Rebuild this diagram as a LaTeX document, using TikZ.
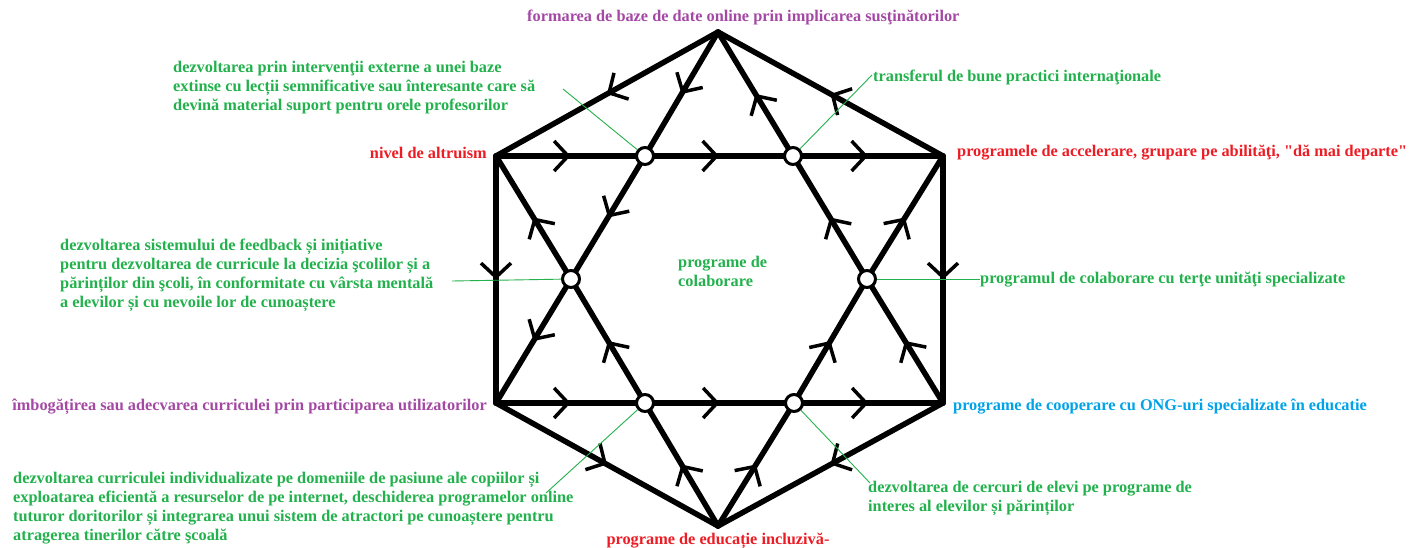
\documentclass[tikz,border=0pt]{standalone}
\usepackage{fontspec}
\setmainfont{Liberation Serif}[Ligatures=TeXOff]
\usetikzlibrary{arrows.meta,decorations.markings}
\definecolor{pgreen}{RGB}{34,177,76}
\definecolor{pred}{RGB}{237,28,36}
\definecolor{ppurple}{RGB}{163,73,164}
\definecolor{pblue}{RGB}{0,162,232}
\begin{document}
\begin{tikzpicture}[x=1pt,y=-1pt,
  edge/.style={line width=5.5pt, line cap=round, postaction={decorate},
    decoration={markings, mark=at position 0.5 with {\arrow{Straight Barb[length=14pt,width=30pt,line width=3.5pt]}}}},
  junction/.style={circle, draw, line width=3pt, fill=white, minimum size=17pt, inner sep=0pt},
  lbl/.style={font=\fontsize{16.3}{19}\selectfont\bfseries, inner sep=0pt},
  leader/.style={draw=pgreen, line width=0.9pt}]
\useasboundingbox (0,0) rectangle (1413,548);
% outer points
\coordinate (T) at (718,32);
\coordinate (B) at (718,526);
\coordinate (UL) at (496,156);
\coordinate (UR) at (943,156);
\coordinate (LL) at (496,403);
\coordinate (LR) at (943,403);
% junction points
\coordinate (p1) at (645,156);
\coordinate (p2) at (793,156);
\coordinate (pML) at (571,279);
\coordinate (pMR) at (867,279);
\coordinate (p3) at (645,403);
\coordinate (p4) at (794,403);
% hexagon
\draw[edge] (T) -- (UL);
\draw[edge] (UL) -- (LL);
\draw[edge] (LL) -- (B);
\draw[edge] (LR) -- (B);
\draw[edge] (UR) -- (LR);
\draw[edge] (UR) -- (T);
% horizontals
\draw[edge] (UL) -- (p1);
\draw[edge] (p1) -- (p2);
\draw[edge] (p2) -- (UR);
\draw[edge] (LL) -- (p3);
\draw[edge] (p3) -- (p4);
\draw[edge] (p4) -- (LR);
% star diagonals
\draw[edge] (T) -- (p1);
\draw[edge] (p1) -- (pML);
\draw[edge] (pML) -- (LL);
\draw[edge] (LR) -- (pMR);
\draw[edge] (pMR) -- (p2);
\draw[edge] (p2) -- (T);
\draw[edge] (B) -- (p3);
\draw[edge] (p3) -- (pML);
\draw[edge] (pML) -- (UL);
\draw[edge] (B) -- (p4);
\draw[edge] (p4) -- (pMR);
\draw[edge] (pMR) -- (UR);
% junction circles
\node[junction] (c1) at (p1) {};
\node[junction] (c2) at (p2) {};
\node[junction] (cML) at (pML) {};
\node[junction] (cMR) at (pMR) {};
\node[junction] (c3) at (p3) {};
\node[junction] (c4) at (p4) {};
% leader ends
\coordinate (e1) at (563,89);
\coordinate (e2) at (872,75);
\coordinate (e3) at (452,281);
\coordinate (e4) at (980,279);
\coordinate (e5) at (546,493);
\coordinate (e6) at (870,483);
\draw[leader] (c1) -- (e1);
\draw[leader] (c2) -- (e2);
\draw[leader] (cML) -- (e3);
\draw[leader] (cMR) -- (e4);
\draw[leader] (c3) -- (e5);
\draw[leader] (c4) -- (e6);
% labels
\node[lbl, text=ppurple, anchor=base west] (tTop) at (527,22) {formarea de baze de date online prin implicarea susţinătorilor};
\node[lbl, text=pgreen, anchor=north west, align=left] (tA) at (173,61) {dezvoltarea prin intervenţii externe a unei baze\\extinse cu lecții semnificative sau înteresante care să\\devină material suport pentru orele profesorilor};
\node[lbl, text=pred, anchor=base east] (tAlt) at (487,159) {nivel de altruism};
\node[lbl, text=pred, anchor=base west] (tAcc) at (957,157) {programele de accelerare, grupare pe abilităţi, "dă mai departe"};
\node[lbl, text=pgreen, anchor=base west] (tTr) at (873,82) {transferul de bune practici internaţionale};
\node[lbl, text=pgreen, anchor=north west, align=left] (tFb) at (60,239) {dezvoltarea sistemului de feedback și inițiative\\pentru dezvoltarea de curricule la decizia şcolilor și a\\părinților din şcoli, în conformitate cu vârsta mentală\\a elevilor și cu nevoile lor de cunoaștere};
\node[lbl, text=pgreen, anchor=north west, align=left] (tCol) at (678,256) {programe de\\colaborare};
\node[lbl, text=pgreen, anchor=base west] (tTer) at (980,283) {programul de colaborare cu terţe unităţi specializate};
\node[lbl, text=ppurple, anchor=base east] (tImb) at (487,410) {îmbogățirea sau adecvarea curriculei prin participarea utilizatorilor};
\node[lbl, text=pblue, anchor=base west] (tOng) at (953,410) {programe de cooperare cu ONG-uri specializate în educatie};
\node[lbl, text=pgreen, anchor=north west, align=left] (tInd) at (13,472) {dezvoltarea curriculei individualizate pe domeniile de pasiune ale copiilor și\\exploatarea eficientă a resurselor de pe internet, deschiderea programelor online\\tuturor doritorilor și integrarea unui sistem de atractori pe cunoaștere pentru\\atragerea tinerilor către şcoală};
\node[lbl, text=pred, anchor=base] (tInc) at (718,544) {programe de educație incluzivă-};
\node[lbl, text=pgreen, anchor=north west, align=left] (tCerc) at (868,481) {dezvoltarea de cercuri de elevi pe programe de\\interes al elevilor și părinților};
\end{tikzpicture}
\end{document}
